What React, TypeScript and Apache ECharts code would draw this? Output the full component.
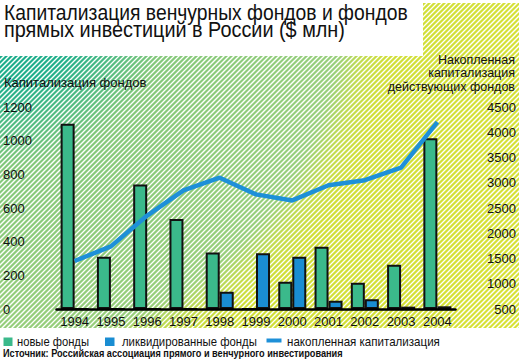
import React, { useEffect, useRef } from "react";
import * as echarts from "echarts";

const years = ["1994", "1995", "1996", "1997", "1998", "1999", "2000", "2001", "2002", "2003", "2004"];
const newFunds = [1100, 310, 740, 535, 335, 0, 162, 370, 156, 263, 1015];
const liquidatedFunds = [0, 0, 0, 0, 103, 331, 311, 49, 58, 14, 16];
const cumulativeCap = [1450, 1740, 2350, 2850, 3100, 2770, 2650, 2950, 3050, 3300, 4200];

const seriesNames = ["новые фонды", "ликвидированные фонды", "накопленная капитализация"];
const titleLines = ["Капитализация венчурных фондов и фондов", "прямых инвестиций в России ($ млн)"];
const leftAxisName = "Капитализация фондов";
const rightAxisNameLines = ["Накопленная", "капитализация", "действующих фондов"];
const sourceText = "Источник: Российская ассоциация прямого и венчурного инвестирования";

const GREEN = "#3bb98b";
const BLUE = "#1a8dd2";
const LINE_BLUE = "#1e90d8";
const FONT = '"Liberation Sans", Arial, sans-serif';

function measure(text: string, font: string): number {
  const c = document.createElement("canvas").getContext("2d");
  if (!c) return text.length * 7;
  c.font = font;
  return c.measureText(text).width;
}

function fitText(text: string, size: number, x: number, y: number, target: number, align = "left", weight = "normal", z = 20) {
  const font = `${weight} ${size}px ${FONT}`;
  const w = measure(text, font);
  const sx = target > 0 && w > 0 ? target / w : 1;
  const style: any = {
    text,
    x: 0,
    y: 0,
    font,
    fill: "#111",
    align,
    verticalAlign: "middle",
    textAlign: align,
    textVerticalAlign: "middle",
  };
  return { type: "text", x, y, scaleX: sx, z, silent: true, style };
}

export default function App() {
  const ref = useRef<HTMLDivElement>(null);

  useEffect(() => {
    document.body.style.margin = "0";
    if (!ref.current) return;
    const chart = echarts.init(ref.current, undefined, { renderer: "svg" });

    const grad = {
      type: "radial",
      x: 0,
      y: 0,
      r: 620,
      global: true,
      colorStops: [
        { offset: 0, color: "#0fa68b" },
        { offset: 0.14, color: "#22b08a" },
        { offset: 0.27, color: "#84c87a" },
        { offset: 0.55, color: "#98cf7c" },
        { offset: 0.59, color: "#c2dc50" },
        { offset: 0.63, color: "#d0df38" },
        { offset: 1, color: "#d8e236" },
      ],
    };

    const bg: any[] = [
      { type: "rect", z: -30, silent: true, shape: { x: 0, y: 56, width: 519, height: 272 }, style: { fill: grad } },
      { type: "rect", z: -30, silent: true, shape: { x: 423, y: 3, width: 96, height: 54 }, style: { fill: grad } },
    ];
    for (let c = 0; c <= 519 + 340; c += 5) {
      bg.push({
        type: "line",
        z: -20,
        silent: true,
        shape: { x1: c, y1: 0, x2: c - 340, y2: 340 },
        style: { stroke: "#ffffff", lineWidth: 1.3 },
      });
    }
    bg.push(
      { type: "rect", z: -10, silent: true, shape: { x: 0, y: 0, width: 423, height: 56 }, style: { fill: "#fff" } },
      { type: "rect", z: -10, silent: true, shape: { x: 0, y: 0, width: 519, height: 3 }, style: { fill: "#fff" } },
      { type: "rect", z: -10, silent: true, shape: { x: 0, y: 328, width: 519, height: 31 }, style: { fill: "#fff" } }
    );

    const texts: any[] = [
      fitText(titleLines[0], 22, 4, 12.5, 404),
      fitText(titleLines[1], 22, 4, 29.5, 341),
      fitText(leftAxisName, 13, 4, 82.5, 0),
      fitText(rightAxisNameLines[0], 12.5, 515, 59.5, 0, "right"),
      fitText(rightAxisNameLines[1], 12.5, 515, 73, 0, "right"),
      fitText(rightAxisNameLines[2], 12.5, 515, 86.5, 0, "right"),
      fitText(sourceText, 11, 3, 353.5, 340, "left", "bold"),
      { type: "rect", z: 20, silent: true, shape: { x: 3.5, y: 337.5, width: 9, height: 8.5 }, style: { fill: GREEN } },
      fitText(seriesNames[0], 13, 17, 341.5, 72),
      { type: "rect", z: 20, silent: true, shape: { x: 105, y: 337.5, width: 9.5, height: 8.5 }, style: { fill: BLUE } },
      fitText(seriesNames[1], 13, 122, 341.5, 135),
      { type: "rect", z: 20, silent: true, shape: { x: 266.5, y: 338.5, width: 15, height: 4 }, style: { fill: LINE_BLUE } },
      fitText(seriesNames[2], 13, 287, 341.5, 153),
    ];

    const labelStyle = { color: "#111", fontSize: 13, fontFamily: FONT };
    const plain = (v: number) => String(v);

    chart.setOption({
      animation: false,
      backgroundColor: "#fff",
      graphic: { elements: [...bg, ...texts] },
      grid: { left: 55.5, right: 63.5, top: 107, bottom: 50, containLabel: false },
      xAxis: {
        type: "category",
        data: years,
        axisLine: { show: true, lineStyle: { color: "#000", width: 2.5 } },
        axisTick: { show: false },
        axisLabel: { ...labelStyle, margin: 6, interval: 0 },
        z: 10,
      },
      yAxis: [
        {
          type: "value",
          min: 0,
          max: 1200,
          interval: 200,
          position: "left",
          splitLine: { show: false },
          axisLine: { show: false },
          axisTick: { show: false },
          axisLabel: { ...labelStyle, align: "left", margin: 53.5, padding: [0, 0, 8, 0], formatter: plain },
        },
        {
          type: "value",
          min: 500,
          max: 4500,
          interval: 500,
          position: "right",
          splitLine: { show: false },
          axisLine: { show: false },
          axisTick: { show: false },
          axisLabel: { ...labelStyle, align: "right", margin: 60.5, padding: [0, 0, 8, 0], formatter: plain },
        },
      ],
      series: [
        {
          name: seriesNames[0],
          type: "bar",
          data: newFunds,
          barWidth: 14,
          barGap: "0%",
          itemStyle: { color: GREEN, borderColor: "#111", borderWidth: 2 },
          z: 3,
        },
        {
          name: seriesNames[1],
          type: "bar",
          data: liquidatedFunds,
          barWidth: 14,
          barGap: "0%",
          itemStyle: { color: BLUE, borderColor: "#111", borderWidth: 2 },
          z: 3,
        },
        {
          name: seriesNames[2],
          type: "line",
          yAxisIndex: 1,
          data: cumulativeCap,
          symbol: "none",
          lineStyle: { color: LINE_BLUE, width: 4.5 },
          itemStyle: { color: LINE_BLUE },
          z: 5,
        },
      ],
    });

    return () => chart.dispose();
  }, []);

  return <div ref={ref} style={{ position: "absolute", left: 0, top: 0, width: 519, height: 359 }} />;
}
